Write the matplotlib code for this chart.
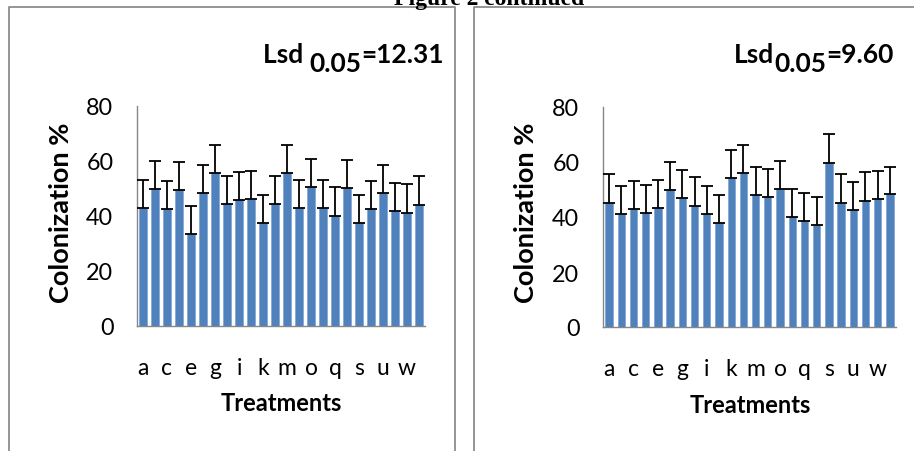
import matplotlib
matplotlib.use("Agg")
import matplotlib.pyplot as plt
from matplotlib.lines import Line2D

plt.rcParams['font.family'] = ['Lato', 'DejaVu Sans']

treatments = list("abcdefghijklmnopqrstuvwx")
tick_labels = ["a", "c", "e", "g", "i", "k", "m", "o", "q", "s", "u", "w"]

left_vals = [42.8, 49.7, 42.6, 49.5, 33.4, 48.5, 55.5, 44.4, 45.8, 46.1, 37.6, 44.4,
             55.5, 42.8, 50.5, 42.8, 40.1, 50.1, 37.6, 42.6, 48.5, 41.8, 41.2, 44.0]
left_err = [10.3, 10.4, 10.2, 10.1, 10.1, 10.1, 10.2, 10.2, 10.3, 10.3, 10.1, 10.2,
            10.2, 10.3, 10.2, 10.3, 10.3, 10.3, 10.1, 10.2, 10.1, 10.2, 10.3, 10.4]

right_vals = [45.2, 41.1, 42.8, 41.6, 43.3, 49.7, 46.9, 44.1, 41.1, 37.8, 54.2, 56.0,
              47.9, 47.3, 50.1, 39.9, 38.5, 37.2, 59.8, 45.2, 42.7, 45.9, 46.5, 48.2]
right_err = [10.3, 10.2, 10.3, 10.2, 10.2, 10.3, 10.2, 10.3, 10.2, 10.3, 10.3, 10.3,
             10.2, 10.2, 10.1, 10.2, 10.2, 10.2, 10.3, 10.3, 10.1, 10.3, 10.1, 10.0]

W, H = 914, 452
fig = plt.figure(figsize=(W / 100, H / 100), dpi=100)

BAR = '#4F81BD'
AXC = '#868686'

def px(x0, y0, x1, y1):
    return [x0 / W, 1 - y1 / H, (x1 - x0) / W, (y1 - y0) / H]

def panel(rect, vals, errs):
    ax = fig.add_axes(rect)
    x = list(range(len(treatments)))
    ax.bar(x, vals, width=0.6, color=BAR, edgecolor='#7FA3D4', linewidth=0.5, zorder=2)
    ax.errorbar(x, vals, yerr=[[0] * len(errs), errs], fmt='none', ecolor='black',
                elinewidth=1.3, capsize=4.2, capthick=1.3, zorder=3)
    ax.set_xlim(-0.5, len(treatments) - 0.5)
    ax.set_ylim(0, 80)
    ax.set_yticks([0, 20, 40, 60, 80])
    ax.set_xticks(list(range(0, len(treatments), 2)))
    ax.set_xticklabels(tick_labels)
    ax.tick_params(axis='y', length=0, pad=17, labelsize=16.8)
    ax.tick_params(axis='x', length=0, pad=22, labelsize=16.5)
    for s in ['top', 'right']:
        ax.spines[s].set_visible(False)
    for s in ['left', 'bottom']:
        ax.spines[s].set_color(AXC)
        ax.spines[s].set_linewidth(1.0)
    return ax

axL = panel(px(137, 107, 425, 327), left_vals, left_err)
axR = panel(px(603, 108, 896, 328), right_vals, right_err)

# axis labels
for cx, cy in [(61, 213), (526, 213)]:
    fig.text(cx / W, 1 - cy / H, "Colonization %", rotation=90, ha='center', va='center',
             fontsize=19.5, fontweight='bold')
fig.text(281 / W, 1 - 404 / H, "Treatments", ha='center', va='center', fontsize=17, fontweight='bold')
fig.text(750 / W, 1 - 406 / H, "Treatments", ha='center', va='center', fontsize=17, fontweight='bold')

# Lsd annotations (sub-scripted pieces)
renderer = fig.canvas.get_renderer()

def lsd(x0, pieces):
    xcur = x0
    for txt, dy in pieces:
        t = fig.text(xcur, H - 63 - dy, txt, transform=None, ha='left', va='baseline',
                     fontsize=19, fontweight='bold')
        bb = t.get_window_extent(renderer)
        xcur = bb.x1

lsd(263, [("Lsd ", 0), ("0.05", 9), ("=12.31", 0)])
lsd(734, [("Lsd", 0), ("0.05", 9), ("=9.60", 0)])

# title (clipped at top, as in the source page)
fig.text(489 / W, 1 - 5 / H, "Figure 2 continued", ha='center', va='baseline',
         fontsize=17, fontweight='bold', family='Liberation Serif')

# frames
fc = '#8C8C8C'
def fline(xs, ys):
    fig.add_artist(Line2D([x / W for x in xs], [1 - y / H for y in ys], color=fc, lw=1.3,
                          transform=fig.transFigure))

fline([9, 9, 455, 455], [H + 5, 8, 8, H + 5])
fline([474, 474, W + 5], [H + 5, 8, 8])

fig.savefig("out.png", dpi=100)
